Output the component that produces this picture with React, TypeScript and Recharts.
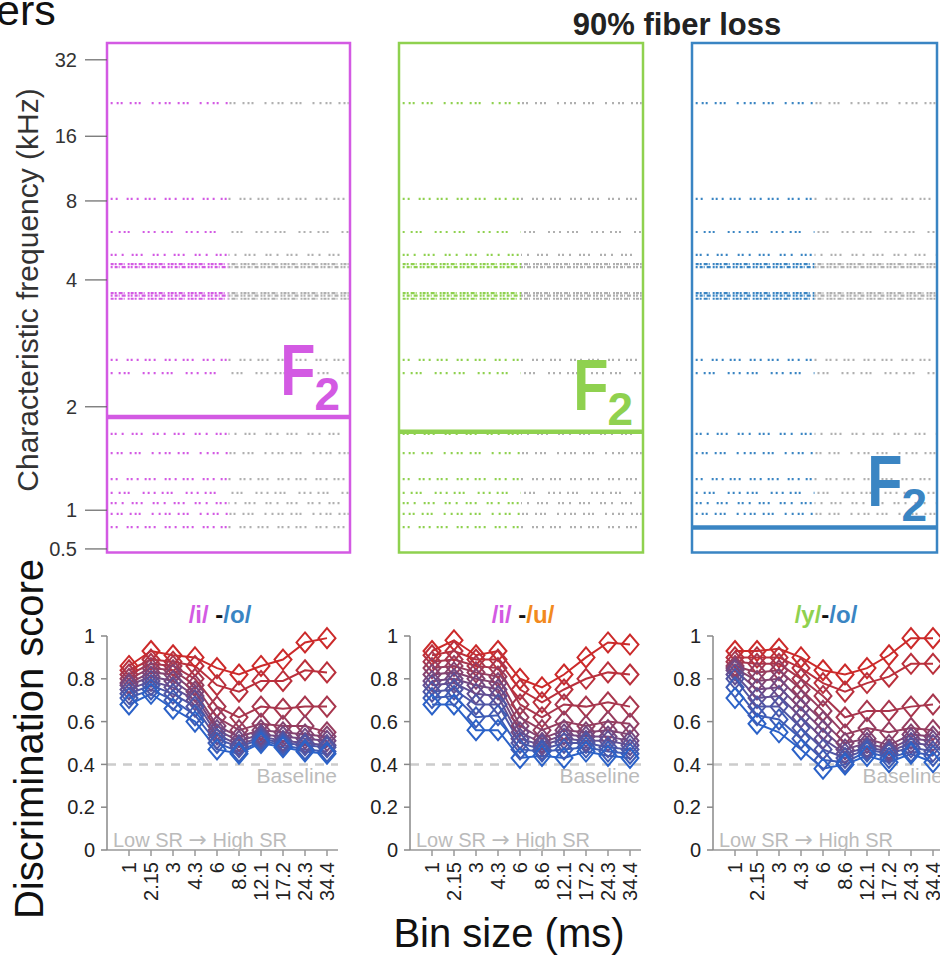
import React from "react";
import {
  ComposedChart,
  LineChart,
  Line,
  XAxis,
  YAxis,
  ReferenceLine,
  ReferenceArea,
} from "recharts";

const FONT = '"Liberation Sans", Arial, Helvetica, sans-serif';

const MAGENTA = "#d35ae3";
const GREEN = "#8fd14f";
const BLUE = "#3a85c3";
const ORANGE = "#f28a1e";
const GRAY_DOT = "#b0b0b0";

// CF axis: tick labels (kHz) and where they sit on the fiber place axis (0 = apex .. 100 = base)
const cfTickLabels = ["0.5", "1", "2", "4", "8", "16", "32"];
const cfTickPlace = [0.7, 8.3, 28.6, 53.5, 69.0, 81.7, 96.7];

// surviving fibers shown as raster rows (place axis)
const fiberPlaces = [88.2, 69.4, 62.9, 58.4, 56.6, 56.0, 50.9, 50.4, 49.8, 37.8, 35.2, 23.3, 19.5, 14.4, 11.7, 9.7, 7.6, 5.0];

// F2 boundary for the three vowel panels
const f2Places = [26.6, 23.7, 4.9];

// stimulus-driven part of the window (coloured) and the remainder (grey), fraction of window
const drivenSpan = [0.015, 0.5];
const restSpan = [0.5, 0.995];

// bottom row
const binSizes = ["1", "2.15", "3", "4.3", "6", "8.6", "12.1", "17.2", "24.3", "34.4"];
const binIndex = [0, 1, 2, 3, 4, 5, 6, 7, 8, 9];
const scoreTicks = [0, 0.2, 0.4, 0.6, 0.8, 1];
const baselineScore = 0.4;

// discrimination score per SR group, high SR first
const scoresIO = [
  [0.86, 0.93, 0.91, 0.9, 0.85, 0.82, 0.86, 0.89, 0.97, 0.99],
  [0.84, 0.89, 0.88, 0.86, 0.77, 0.74, 0.79, 0.79, 0.84, 0.83],
  [0.82, 0.87, 0.86, 0.8, 0.67, 0.62, 0.67, 0.66, 0.67, 0.67],
  [0.8, 0.85, 0.84, 0.77, 0.62, 0.56, 0.59, 0.58, 0.58, 0.55],
  [0.78, 0.83, 0.82, 0.74, 0.58, 0.53, 0.56, 0.55, 0.54, 0.53],
  [0.77, 0.81, 0.79, 0.72, 0.56, 0.51, 0.54, 0.53, 0.52, 0.51],
  [0.75, 0.79, 0.76, 0.7, 0.54, 0.49, 0.53, 0.51, 0.5, 0.49],
  [0.73, 0.77, 0.73, 0.67, 0.52, 0.48, 0.52, 0.5, 0.49, 0.48],
  [0.71, 0.75, 0.7, 0.63, 0.5, 0.46, 0.51, 0.49, 0.47, 0.46],
  [0.68, 0.73, 0.66, 0.6, 0.47, 0.45, 0.5, 0.48, 0.46, 0.45],
];
const scoresIU = [
  [0.93, 0.98, 0.91, 0.93, 0.8, 0.76, 0.82, 0.9, 0.97, 0.96],
  [0.91, 0.93, 0.89, 0.89, 0.75, 0.69, 0.75, 0.8, 0.83, 0.82],
  [0.88, 0.89, 0.86, 0.85, 0.68, 0.62, 0.68, 0.67, 0.69, 0.67],
  [0.85, 0.86, 0.83, 0.81, 0.62, 0.56, 0.6, 0.58, 0.6, 0.59],
  [0.82, 0.83, 0.8, 0.78, 0.58, 0.52, 0.56, 0.55, 0.56, 0.54],
  [0.79, 0.8, 0.77, 0.75, 0.55, 0.5, 0.54, 0.53, 0.53, 0.51],
  [0.77, 0.78, 0.73, 0.72, 0.52, 0.49, 0.52, 0.51, 0.51, 0.49],
  [0.74, 0.75, 0.68, 0.68, 0.5, 0.47, 0.5, 0.5, 0.48, 0.47],
  [0.71, 0.72, 0.62, 0.63, 0.47, 0.46, 0.47, 0.48, 0.46, 0.45],
  [0.68, 0.68, 0.56, 0.56, 0.43, 0.44, 0.43, 0.46, 0.44, 0.43],
];
const scoresYO = [
  [0.93, 0.93, 0.94, 0.9, 0.84, 0.82, 0.85, 0.91, 0.99, 0.99],
  [0.9, 0.9, 0.9, 0.85, 0.78, 0.74, 0.78, 0.81, 0.87, 0.87],
  [0.88, 0.87, 0.87, 0.8, 0.72, 0.62, 0.65, 0.65, 0.67, 0.68],
  [0.86, 0.83, 0.84, 0.75, 0.65, 0.54, 0.57, 0.55, 0.57, 0.56],
  [0.85, 0.79, 0.8, 0.7, 0.6, 0.5, 0.52, 0.49, 0.54, 0.53],
  [0.84, 0.75, 0.76, 0.66, 0.56, 0.47, 0.5, 0.47, 0.52, 0.51],
  [0.82, 0.71, 0.72, 0.62, 0.52, 0.45, 0.48, 0.46, 0.5, 0.49],
  [0.8, 0.67, 0.67, 0.57, 0.47, 0.43, 0.47, 0.45, 0.48, 0.46],
  [0.76, 0.63, 0.61, 0.52, 0.42, 0.41, 0.46, 0.43, 0.46, 0.44],
  [0.71, 0.59, 0.55, 0.47, 0.38, 0.4, 0.44, 0.41, 0.45, 0.41],
];

// red (high SR) -> blue (low SR)
const srColors = ["#cc2a2a", "#ba303c", "#a8364d", "#963d5f", "#844370", "#734982", "#614f93", "#4f56a5", "#3d5cb6", "#2b62c8"];

const sparseDash = [
  "2 4 2 2 2 7 2 3 2 2 2 11 2 5",
  "2 3 2 9 2 2 2 4 2 6 2 2",
  "2 6 2 3 2 2 2 13 2 3 2 4",
  "2 2 2 5 2 8 2 2 2 3 2 10",
];
const denseDash = ["3 1 2 2 4 1 1 3 2 1", "2 2 3 1 1 2 4 2 2 1"];
const denseRows = [4, 5, 6, 7, 8];

function F2Mark(props: any) {
  const { viewBox, color } = props;
  if (!viewBox) return null;
  const right = viewBox.x + viewBox.width;
  const y = viewBox.y;
  return (
    <g fontFamily={FONT} fontWeight="bold" fill={color}>
      <text transform={`translate(${right - 34.5},${y - 22}) scale(0.8,1)`} textAnchor="end" fontSize={72}>
        F
      </text>
      <text x={right - 10} y={y - 7} textAnchor="end" fontSize={46}>
        2
      </text>
    </g>
  );
}

function RasterPanel({ left, width, color, f2, showAxis }: any) {
  const axisW = showAxis ? 107 : 0;
  const pad = 3;
  const rows = fiberPlaces.flatMap((p, k) => {
    const dash = denseRows.includes(k) ? denseDash[k % 2] : sparseDash[k % 4];
    return [
      <ReferenceLine
        key={`c${k}`}
        segment={[
          { x: drivenSpan[0], y: p },
          { x: drivenSpan[1], y: p },
        ]}
        stroke={color}
        strokeWidth={2.2}
        strokeDasharray={dash}
      />,
      <ReferenceLine
        key={`g${k}`}
        segment={[
          { x: restSpan[0], y: p },
          { x: restSpan[1], y: p },
        ]}
        stroke={GRAY_DOT}
        strokeWidth={2.2}
        strokeDasharray={dash}
        strokeDashoffset={5}
      />,
    ];
  });
  return (
    <div style={{ position: "absolute", left: left - axisW - (showAxis ? 0 : pad), top: 0 }}>
      <ComposedChart
        width={axisW + width + (showAxis ? 0 : pad) + pad}
        height={560}
        data={fiberPlaces.map((p) => ({ place: p }))}
        margin={{ top: 43, right: pad, bottom: 7.5, left: showAxis ? 0 : pad }}
      >
        <XAxis type="number" dataKey="t" domain={[0, 1]} hide allowDataOverflow />
        <YAxis
          type="number"
          domain={[0, 100]}
          allowDataOverflow
          hide={!showAxis}
          width={107}
          ticks={cfTickPlace}
          interval={0}
          tickFormatter={(v: number) => cfTickLabels[cfTickPlace.indexOf(v)]}
          axisLine={false}
          tickSize={22}
          tickMargin={8}
          tickLine={{ stroke: "#666", strokeWidth: 1.2 }}
          tick={{ fontSize: 20, fill: "#333", fontFamily: FONT }}
        />
        {rows}
        <ReferenceArea x1={0} x2={1} y1={0} y2={100} fill="none" stroke={color} strokeWidth={2.5} />
        <ReferenceLine y={f2} stroke={color} strokeWidth={4.5} label={<F2Mark color={color} />} />
      </ComposedChart>
    </div>
  );
}

const diamond = (props: any) => {
  const { cx, cy, stroke, index, dataKey } = props;
  const key = `${dataKey}-${index}`;
  if (cx == null || cy == null) return <g key={key} />;
  return (
    <path
      key={key}
      d={`M${cx},${cy - 10}L${cx + 8.5},${cy}L${cx},${cy + 10}L${cx - 8.5},${cy}Z`}
      fill="none"
      stroke={stroke}
      strokeWidth={2}
    />
  );
};

function BinTick(props: any) {
  const { x, y, payload } = props;
  return (
    <text
      transform={`translate(${x},${y + 4}) rotate(-90)`}
      textAnchor="end"
      dy="0.35em"
      fontSize={20}
      fill="#222"
      fontFamily={FONT}
    >
      {binSizes[payload.value]}
    </text>
  );
}

function BaselineTag(props: any) {
  const { viewBox } = props;
  if (!viewBox) return null;
  return (
    <text x={viewBox.x + viewBox.width - 1} y={viewBox.y + 19} textAnchor="end" fontSize={21} fill="#bbb" fontFamily={FONT}>
      Baseline
    </text>
  );
}

function ScorePanel({ left, scores }: any) {
  const data = binIndex.map((i) => {
    const row: any = { i };
    scores.forEach((s: number[], k: number) => {
      row[`s${k}`] = s[i];
    });
    return row;
  });
  return (
    <div style={{ position: "absolute", left, top: 600 }}>
      <LineChart width={342} height={360} data={data} margin={{ top: 36, right: 4, bottom: 50, left: 0 }}>
        <XAxis
          type="number"
          dataKey="i"
          domain={[-1, 9.5]}
          allowDataOverflow
          ticks={binIndex}
          interval={0}
          height={60}
          tickSize={6}
          axisLine={{ stroke: "#999", strokeWidth: 1.5 }}
          tickLine={{ stroke: "#999", strokeWidth: 1.5 }}
          tick={<BinTick />}
        />
        <YAxis
          type="number"
          domain={[0, 1]}
          ticks={scoreTicks}
          interval={0}
          width={107}
          tickSize={6}
          tickMargin={6}
          axisLine={{ stroke: "#888", strokeWidth: 1.5 }}
          tickLine={{ stroke: "#888", strokeWidth: 1.5 }}
          tick={{ fontSize: 20, fill: "#222", fontFamily: FONT }}
        />
        <ReferenceLine y={baselineScore} stroke="#ccc" strokeWidth={2.5} strokeDasharray="9 7" label={<BaselineTag />} />
        {scores.map((_: number[], k: number) => (
          <Line
            key={k}
            type="linear"
            dataKey={`s${k}`}
            stroke={srColors[k]}
            strokeWidth={2}
            dot={diamond}
            activeDot={false}
            isAnimationActive={false}
          />
        ))}
      </LineChart>
    </div>
  );
}

const contrasts = [
  { a: "/i/", aColor: MAGENTA, sep: " -", b: "/o/", bColor: BLUE },
  { a: "/i/", aColor: MAGENTA, sep: " -", b: "/u/", bColor: ORANGE },
  { a: "/y/", aColor: GREEN, sep: "-", b: "/o/", bColor: BLUE },
];
const panelShift = [0, 303, 606];

export default function App() {
  return (
    <div
      style={{
        position: "absolute",
        left: 0,
        top: 0,
        width: 940,
        height: 958,
        overflow: "hidden",
        background: "#fff",
        fontFamily: FONT,
      }}
    >
      <RasterPanel left={107} width={243} color={MAGENTA} f2={f2Places[0]} showAxis />
      <RasterPanel left={399} width={244} color={GREEN} f2={f2Places[1]} />
      <RasterPanel left={692} width={245} color={BLUE} f2={f2Places[2]} />

      <ScorePanel left={panelShift[0]} scores={scoresIO} />
      <ScorePanel left={panelShift[1]} scores={scoresIU} />
      <ScorePanel left={panelShift[2]} scores={scoresYO} />

      <svg width={940} height={958} style={{ position: "absolute", left: 0, top: 0, pointerEvents: "none" }} fontFamily={FONT}>
        <text x={-4} y={25} fontSize={43} fill="#111">
          ers
        </text>
        <text x={677} y={35} fontSize={31} fontWeight="bold" fill="#222" textAnchor="middle">
          90% fiber loss
        </text>
        <text transform="translate(38,290) rotate(-90)" textAnchor="middle" fontSize={30} fill="#333">
          Characteristic frequency (kHz)
        </text>
        <text transform="translate(43,739) rotate(-90)" textAnchor="middle" fontSize={40} fill="#111">
          Discrimination score
        </text>
        <text x={509} y={947} textAnchor="middle" fontSize={40} fill="#111">
          Bin size (ms)
        </text>
        {contrasts.map((c, k) => (
          <text key={k} x={220 + panelShift[k]} y={623} textAnchor="middle" fontSize={24} fontWeight="bold">
            <tspan fill={c.aColor}>{c.a}</tspan>
            <tspan fill="#111">{c.sep}</tspan>
            <tspan fill={c.bColor}>{c.b}</tspan>
          </text>
        ))}
        {panelShift.map((s, k) => (
          <text key={k} x={113 + s} y={847} fontSize={20} fill="#bbb">
            Low SR{" "}
            <tspan fontFamily='"DejaVu Sans", sans-serif' fontSize={22}>
              →
            </tspan>{" "}
            High SR
          </text>
        ))}
      </svg>
    </div>
  );
}
